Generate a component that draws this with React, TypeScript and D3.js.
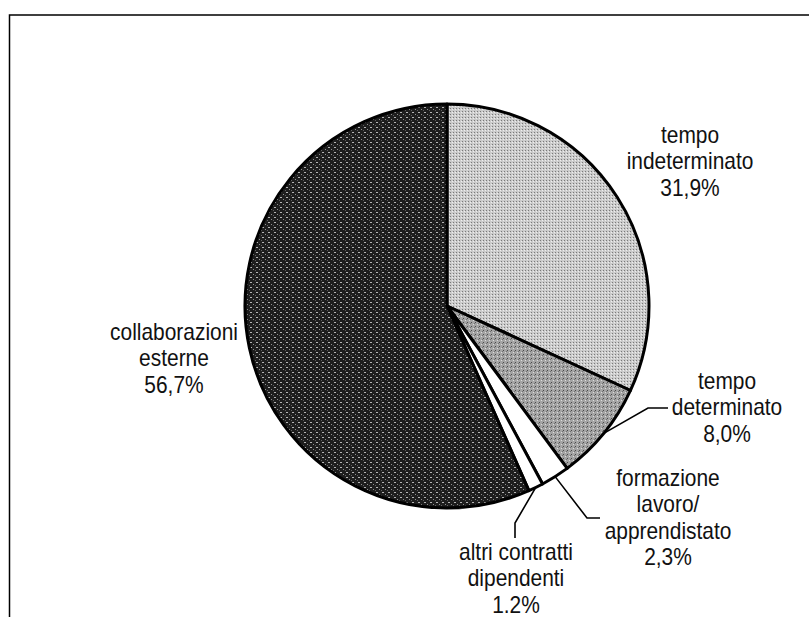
import React from 'react';
import * as d3 from 'd3';

// slices, clockwise from 12 o'clock
const categories = [
  'tempo indeterminato',
  'tempo determinato',
  'formazione lavoro/ apprendistato',
  'altri contratti dipendenti',
  'collaborazioni esterne',
];
const values = [31.9, 8.0, 2.3, 1.2, 56.7];
const labelLines = [
  ['tempo', 'indeterminato', '31,9%'],
  ['tempo', 'determinato', '8,0%'],
  ['formazione', 'lavoro/', 'apprendistato', '2,3%'],
  ['altri contratti', 'dipendenti', '1.2%'],
  ['collaborazioni', 'esterne', '56,7%'],
];
const fills = ['url(#pLight)', 'url(#pMid)', '#ffffff', '#ffffff', 'url(#pDark)'];

const W = 809;
const H = 617;
const cx = 447;
const cy = 306;
const R = 202;
const FONT = 'Liberation Sans, Arial, sans-serif';

// label placement: centre x and first baseline
const labelPos = [
  { x: 690, y: 143 },
  { x: 727, y: 389 },
  { x: 668, y: 486 },
  { x: 516, y: 560 },
  { x: 174, y: 340 },
];
// leader elbows (only for the small slices)
const leaders: Record<number, [number, number][]> = {
  1: [[648, 408], [668, 408]],
  2: [[587, 518], [600, 518]],
  3: [[515, 523], [515, 538]],
};

export default function App() {
  const data = categories.map((c, i) => ({ name: c, value: values[i], i }));
  const pie = d3.pie<{ name: string; value: number; i: number }>()
    .value((d) => d.value)
    .sort(null);
  const arcs = pie(data);
  const arc = d3.arc<d3.PieArcDatum<any>>().innerRadius(0).outerRadius(R);

  return (
    <svg
      width={W}
      height={H}
      style={{ position: 'absolute', left: 0, top: 0, background: '#fff' }}
    >
      <defs>
        <pattern id="pLight" width="3" height="3" patternUnits="userSpaceOnUse">
          <rect width="3" height="3" fill="#cbcbcb" />
          <rect x="0" y="0" width="1" height="1" fill="#7a7a7a" />
          <rect x="2" y="1" width="1" height="1" fill="#eeeeee" />
        </pattern>
        <pattern id="pMid" width="4" height="4" patternUnits="userSpaceOnUse">
          <rect width="4" height="4" fill="#a4a4a4" />
          <rect x="0" y="0" width="1" height="1" fill="#4a4a4a" />
          <rect x="2" y="2" width="1" height="1" fill="#dcdcdc" />
          <rect x="3" y="1" width="1" height="1" fill="#707070" />
        </pattern>
        <pattern id="pDark" width="6" height="5" patternUnits="userSpaceOnUse">
          <rect width="6" height="5" fill="#1e1e1e" />
          <rect x="1" y="1" width="2" height="1" fill="#b5b5b5" />
          <rect x="4" y="3" width="1" height="1" fill="#909090" />
          <rect x="0" y="4" width="1" height="1" fill="#606060" />
        </pattern>
      </defs>

      {/* frame, runs off the right and bottom of the picture */}
      <rect x={9.5} y={15} width={W + 20} height={H + 20} fill="none" stroke="#000" strokeWidth={1.5} />

      <g transform={`translate(${cx},${cy})`}>
        {arcs.map((a) => (
          <path
            key={a.data.name}
            d={arc(a) || ''}
            fill={fills[a.data.i]}
            stroke="#000"
            strokeWidth={3}
            strokeLinejoin="round"
          />
        ))}
      </g>

      {arcs.map((a) => {
        const pts = leaders[a.data.i];
        if (!pts) return null;
        const mid = (a.startAngle + a.endAngle) / 2;
        const sx = cx + R * Math.sin(mid);
        const sy = cy - R * Math.cos(mid);
        const line = d3.line()([[sx, sy], ...pts]);
        return (
          <path key={'l' + a.data.i} d={line || ''} fill="none" stroke="#000" strokeWidth={1.6} />
        );
      })}

      {labelLines.map((lines, i) => (
        <text
          key={'t' + i}
          transform={`translate(${labelPos[i].x},${labelPos[i].y}) scale(0.91,1)`}
          textAnchor="middle"
          fontFamily={FONT}
          fontSize={23}
          fill="#111"
        >
          {lines.map((s, j) => (
            <tspan key={j} x={0} dy={j === 0 ? 0 : 26.5}>
              {s}
            </tspan>
          ))}
        </text>
      ))}
    </svg>
  );
}
